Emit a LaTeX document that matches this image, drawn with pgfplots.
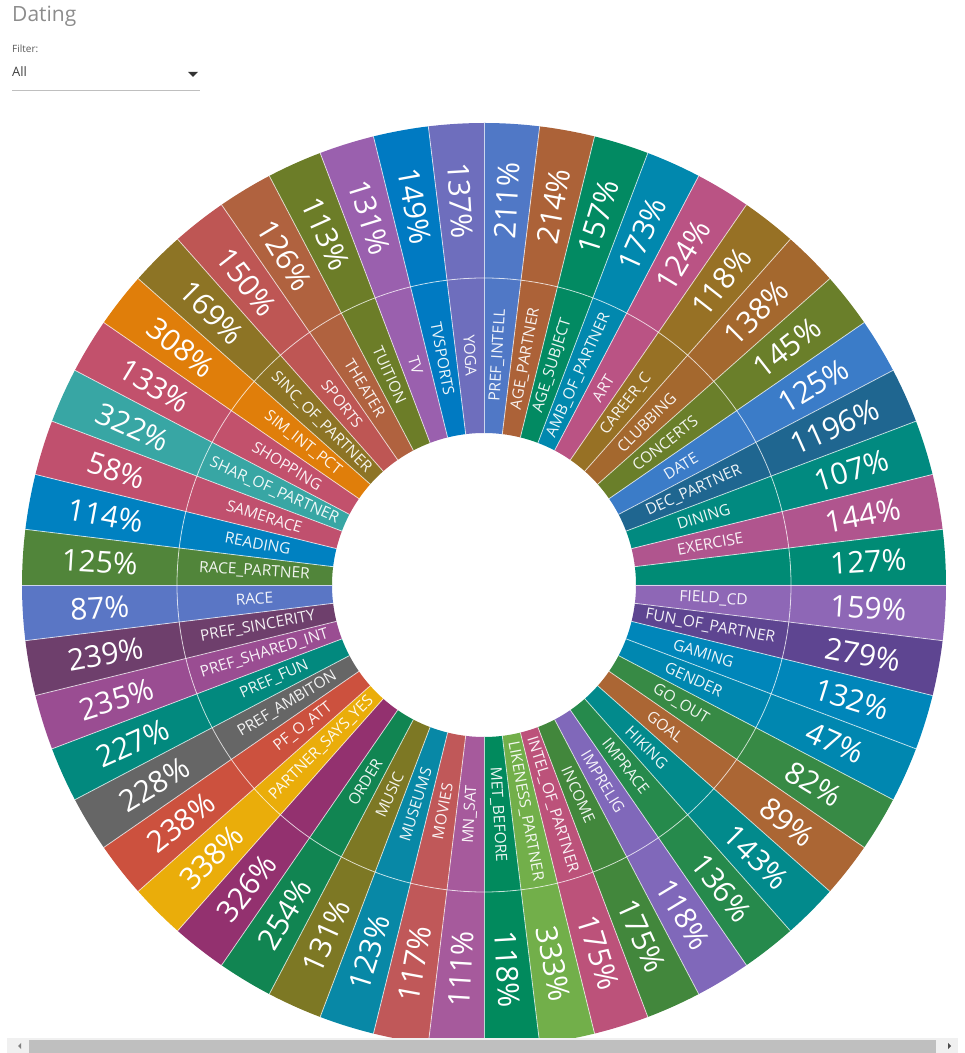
\documentclass[border=0pt]{standalone}
\usepackage{fontspec}
\setmainfont{Open Sans}
\usepackage{pgfplots}
\pgfplotsset{compat=1.18}
\newfontfamily\innerfont{Open Sans}
\newfontfamily\outerfont{Open Sans}
\newcommand\innerstyle{\innerfont\fontsize{15.5}{18}\selectfont}
\newcommand\outerstyle{\outerfont\fontsize{30}{34}\selectfont}
\definecolor{c1}{HTML}{5078C6}
\definecolor{c2}{HTML}{AC6238}
\definecolor{c3}{HTML}{028A62}
\definecolor{c4}{HTML}{0188AE}
\definecolor{c5}{HTML}{BA5384}
\definecolor{c6}{HTML}{977125}
\definecolor{c7}{HTML}{A4682E}
\definecolor{c8}{HTML}{6A7F2A}
\definecolor{c9}{HTML}{3B7CC8}
\definecolor{c10}{HTML}{1F6690}
\definecolor{c11}{HTML}{018A80}
\definecolor{c12}{HTML}{B0558E}
\definecolor{c13}{HTML}{008B75}
\definecolor{c14}{HTML}{8E67B6}
\definecolor{c15}{HTML}{5E4591}
\definecolor{c16}{HTML}{0086BA}
\definecolor{c17}{HTML}{0087B0}
\definecolor{c18}{HTML}{378A45}
\definecolor{c19}{HTML}{AB6634}
\definecolor{c20}{HTML}{028A8C}
\definecolor{c21}{HTML}{268A4C}
\definecolor{c22}{HTML}{8068BA}
\definecolor{c23}{HTML}{42873C}
\definecolor{c24}{HTML}{BC527A}
\definecolor{c25}{HTML}{72AF4A}
\definecolor{c26}{HTML}{018A5D}
\definecolor{c27}{HTML}{A65A9C}
\definecolor{c28}{HTML}{C05859}
\definecolor{c29}{HTML}{0888A6}
\definecolor{c30}{HTML}{7D7824}
\definecolor{c31}{HTML}{118552}
\definecolor{c32}{HTML}{93316F}
\definecolor{c33}{HTML}{EAAD0A}
\definecolor{c34}{HTML}{CC513E}
\definecolor{c35}{HTML}{666666}
\definecolor{c36}{HTML}{02897E}
\definecolor{c37}{HTML}{9A4D92}
\definecolor{c38}{HTML}{6E3F6C}
\definecolor{c39}{HTML}{5A76C5}
\definecolor{c40}{HTML}{51853A}
\definecolor{c41}{HTML}{0081C1}
\definecolor{c42}{HTML}{C0506E}
\definecolor{c43}{HTML}{38A6A4}
\definecolor{c44}{HTML}{C2516C}
\definecolor{c45}{HTML}{E07E0A}
\definecolor{c46}{HTML}{8D7425}
\definecolor{c47}{HTML}{BE5654}
\definecolor{c48}{HTML}{B0623F}
\definecolor{c49}{HTML}{6C7D28}
\definecolor{c50}{HTML}{9A60AE}
\definecolor{c51}{HTML}{007AC2}
\definecolor{c52}{HTML}{6E6EBD}
\begin{document}
\begin{tikzpicture}
\begin{axis}[
  x=1pt, y=1pt,
  xmin=0, xmax=965, ymin=0, ymax=1053,
  hide axis, clip=false,
]
\addplot[draw=none, forget plot] coordinates {(0,0) (965,1053)};
% segments: name / value / colour
\foreach [count=\idx from 0] \nm/\vl/\col in {
PREF_INTELL/211/c1, AGE_PARTNER/214/c2, AGE_SUBJECT/157/c3, AMB_OF_PARTNER/173/c4,
ART/124/c5, CAREER_C/118/c6, CLUBBING/138/c7, CONCERTS/145/c8, DATE/125/c9,
DEC_PARTNER/1196/c10, DINING/107/c11, EXERCISE/144/c12, /127/c13, FIELD_CD/159/c14,
FUN_OF_PARTNER/279/c15, GAMING/132/c16, GENDER/47/c17, GO_OUT/82/c18, GOAL/89/c19,
HIKING/143/c20, IMPRACE/136/c21, IMPRELIG/118/c22, INCOME/175/c23,
INTEL_OF_PARTNER/175/c24, LIKENESS_PARTNER/333/c25, MET_BEFORE/118/c26,
MN_SAT/111/c27, MOVIES/117/c28, MUSEUMS/123/c29, MUSIC/131/c30, ORDER/254/c31,
/326/c32, PARTNER_SAYS_YES/338/c33, PF_O_ATT/238/c34, PREF_AMBITON/228/c35,
PREF_FUN/227/c36, PREF_SHARED_INT/235/c37, PREF_SINCERITY/239/c38, RACE/87/c39,
RACE_PARTNER/125/c40, READING/114/c41, SAMERACE/58/c42, SHAR_OF_PARTNER/322/c43,
SHOPPING/133/c44, SIM_INT_PCT/308/c45, SINC_OF_PARTNER/169/c46, SPORTS/150/c47,
THEATER/126/c48, TUITION/113/c49, TV/131/c50, TVSPORTS/149/c51, YOGA/137/c52}
{
  \pgfmathsetmacro\aS{90-\idx*(360/52)}
  \pgfmathsetmacro\aE{90-(\idx+1)*(360/52)}
  \pgfmathsetmacro\aM{90-(\idx+0.5)*(360/52)}
  \pgfmathsetmacro\rot{cos(\aM)>=0 ? \aM : \aM+180}
  \pgfmathsetmacro\xA{484+152*cos(\aS)}\pgfmathsetmacro\yA{468+152*sin(\aS)}
  \pgfmathsetmacro\xB{484+307*cos(\aE)}\pgfmathsetmacro\yB{468+307*sin(\aE)}
  \pgfmathsetmacro\xC{484+307*cos(\aS)}\pgfmathsetmacro\yC{468+307*sin(\aS)}
  \pgfmathsetmacro\xD{484+462*cos(\aE)}\pgfmathsetmacro\yD{468+462*sin(\aE)}
  \pgfmathsetmacro\xL{484+230*cos(\aM)}\pgfmathsetmacro\yL{468+230*sin(\aM)}
  \pgfmathsetmacro\xO{484+385*cos(\aM)}\pgfmathsetmacro\yO{468+385*sin(\aM)}
  \edef\nn{\detokenize\expandafter{\nm}}
  \edef\temp{
    \noexpand\fill[\col] (axis cs:\xA,\yA) arc[start angle=\aS, end angle=\aE, radius=152pt]
      -- (axis cs:\xB,\yB) arc[start angle=\aE, end angle=\aS, radius=307pt] -- cycle;
    \noexpand\fill[\col] (axis cs:\xC,\yC) arc[start angle=\aS, end angle=\aE, radius=307pt]
      -- (axis cs:\xD,\yD) arc[start angle=\aE, end angle=\aS, radius=462pt] -- cycle;
    \noexpand\node[rotate=\rot, text=white, text opacity=0.92, font=\noexpand\innerstyle, inner sep=0pt] at (axis cs:\xL,\yL) {\nn};
    \noexpand\node[rotate=\rot, text=white, font=\noexpand\outerstyle, inner sep=0pt] at (axis cs:\xO,\yO) {\vl\noexpand\%};
  }
  \temp
}
% separators
\foreach \idx in {0,...,51}{
  \pgfmathsetmacro\aS{90-\idx*(360/52)}
  \pgfmathsetmacro\xA{484+152*cos(\aS)}\pgfmathsetmacro\yA{468+152*sin(\aS)}
  \pgfmathsetmacro\xD{484+462*cos(\aS)}\pgfmathsetmacro\yD{468+462*sin(\aS)}
  \edef\temp{\noexpand\draw[white, draw opacity=0.7, line width=0.8pt] (axis cs:\xA,\yA) -- (axis cs:\xD,\yD);}
  \temp
}
\draw[white, draw opacity=0.7, line width=0.8pt] (axis cs:484,468) circle[radius=307pt];
% title and filter
\node[anchor=north west, inner sep=0pt, text=black!45, font=\fontsize{21}{24}\selectfont] at (axis cs:12,1047) {Dating};
\node[anchor=north west, inner sep=0pt, text=black!65, font=\fontsize{10}{12}\selectfont] at (axis cs:12,1008) {Filter:};
\node[anchor=north west, inner sep=0pt, text=black!75, font=\fontsize{13}{15}\selectfont] at (axis cs:12,987) {All};
\fill[black!80] (axis cs:188,981) -- (axis cs:198,981) -- (axis cs:193,976) -- cycle;
\draw[black!25, line width=0.8pt] (axis cs:12,963) -- (axis cs:200,963);
% scrollbar
\fill[black!6] (axis cs:7,0) rectangle (axis cs:958,15);
\fill[black!25] (axis cs:29,0) rectangle (axis cs:936,13);
\fill[black!50] (axis cs:18,7) -- (axis cs:21,10) -- (axis cs:21,4) -- cycle;
\fill[black!70] (axis cs:951,7) -- (axis cs:948,10) -- (axis cs:948,4) -- cycle;
\end{axis}
\end{tikzpicture}
\end{document}
